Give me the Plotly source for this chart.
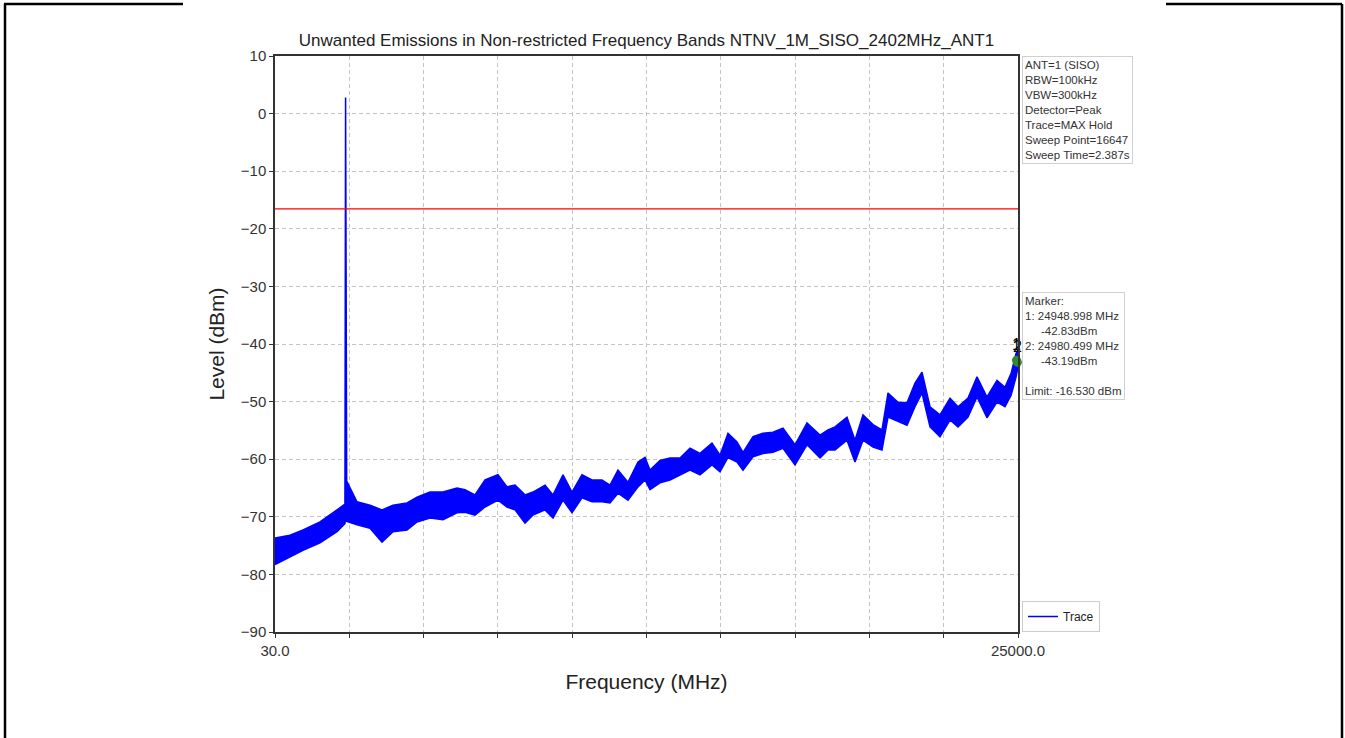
import plotly.graph_objects as go

# ---- data ----
freq_mhz = [30, 534, 971, 1542, 2114, 2380, 2402, 2440, 2786, 3223, 3626, 3996, 4466, 4802,
            5239, 5676, 6146, 6415, 6751, 7088, 7524, 7827, 8096, 8432, 8701, 9104, 9373,
            9709, 10011, 10347, 10683, 11019, 11288, 11557, 11893, 12229, 12465, 12633,
            12969, 13305, 13641, 13977, 14313, 14716, 14985, 15254, 15556, 15758, 16094,
            16430, 16766, 17102, 17506, 17909, 18346, 18615, 18850, 19253, 19522, 19791,
            20127, 20429, 20631, 20967, 21270, 21538, 21774, 22043, 22379, 22715, 22984,
            23320, 23622, 23958, 24294, 24563, 24768, 24936, 25000]
level_hi = [-73.7, -73.2, -72.3, -70.9, -68.8, -67.8, 2.8, -63.8, -67.4, -68.0, -68.8, -68.0,
            -67.6, -66.6, -65.7, -65.7, -65.0, -65.3, -66.2, -63.6, -62.7, -64.8, -64.5,
            -66.2, -65.7, -64.5, -66.2, -62.7, -65.7, -62.7, -63.6, -63.6, -64.5, -61.9,
            -64.0, -60.5, -59.7, -61.9, -60.2, -59.8, -59.8, -58.1, -59.0, -57.2, -59.3,
            -55.5, -57.0, -58.8, -56.1, -55.5, -55.3, -54.6, -57.5, -53.7, -55.8, -54.9,
            -54.4, -52.7, -56.7, -52.3, -54.0, -54.9, -48.5, -50.1, -50.2, -46.8, -44.9,
            -50.9, -52.3, -49.4, -50.9, -49.4, -45.7, -49.2, -46.3, -47.5, -45.1, -41.6, -41.0]
level_lo = [-78.3, -77.0, -75.8, -74.5, -72.6, -71.2, -70.5, -70.8, -71.4, -72.0, -74.4, -72.6,
            -72.3, -70.9, -70.2, -70.5, -69.3, -69.2, -69.7, -68.3, -67.1, -68.3, -68.8,
            -71.1, -69.7, -68.8, -70.2, -67.1, -69.3, -66.7, -67.4, -67.4, -67.6, -65.9,
            -67.1, -64.8, -63.6, -65.3, -64.1, -63.6, -62.7, -61.9, -62.7, -61.0, -62.2,
            -59.7, -60.5, -61.9, -59.6, -59.0, -58.8, -58.1, -61.0, -57.5, -59.8, -58.4,
            -58.4, -56.7, -60.5, -56.7, -57.9, -58.4, -52.7, -53.5, -54.1, -50.9, -48.5,
            -54.4, -56.1, -53.2, -54.4, -52.7, -49.2, -52.8, -50.1, -50.9, -48.9, -45.7, -44.0]

limit_dbm = -16.530
marker_freq = [24948.998, 24980.499]
marker_level = [-42.83, -43.19]
marker_names = ["1", "2"]

x_ticks = [30 + k * 2497 for k in range(11)]
x_tick_text = ["30.0"] + [""] * 9 + ["25000.0"]

info_text = ("ANT=1 (SISO)<br>RBW=100kHz<br>VBW=300kHz<br>Detector=Peak<br>"
             "Trace=MAX Hold<br>Sweep Point=16647<br>Sweep Time=2.387s")
marker_text = ("Marker:<br>1: 24948.998 MHz<br>\u00a0\u00a0\u00a0\u00a0\u00a0-42.83dBm<br>"
               "2: 24980.499 MHz<br>\u00a0\u00a0\u00a0\u00a0\u00a0-43.19dBm<br><br>"
               "Limit: -16.530 dBm")

W, H = 1345, 738
L, R, T, B = 275, 1018, 56, 632


def px(x):
    return (x - L) / (R - L)


def py(y):
    return (B - y) / (B - T)


fig = go.Figure()
fig.add_trace(go.Scatter(x=freq_mhz, y=level_hi, mode="lines", name="Trace",
                         line=dict(color="#0000ff", width=1.5)))
fig.add_trace(go.Scatter(x=freq_mhz, y=level_lo, mode="lines", name="Trace_lo",
                         showlegend=False, fill="tonexty", fillcolor="#0000ff",
                         line=dict(color="#0000ff", width=1.5)))
fig.add_trace(go.Scatter(x=[freq_mhz[0], freq_mhz[-1]], y=[limit_dbm, limit_dbm],
                         mode="lines", showlegend=False, line=dict(color="#ff0000", width=1.2)))
fig.add_trace(go.Scatter(x=marker_freq, y=marker_level, mode="markers+text",
                         text=marker_names, textposition="top center", showlegend=False,
                         textfont=dict(size=16, color="black"),
                         marker=dict(color="#2e8b2e", size=9), cliponaxis=False))

axis_common = dict(showline=True, linecolor="#333333", linewidth=1.5, mirror=True,
                   ticks="outside", ticklen=4, tickcolor="#333333", showgrid=True,
                   gridcolor="#c4c4c4", griddash="4px,3px", gridwidth=1, zeroline=False,
                   tickfont=dict(size=15, color="#333333"))

fig.update_layout(
    width=W, height=H,
    margin=dict(l=L, r=W - R, t=T, b=H - B, autoexpand=False),
    paper_bgcolor="white", plot_bgcolor="white",
    font=dict(family="Liberation Sans, Arial, sans-serif", color="#222222"),
    title=dict(text="Unwanted Emissions in Non-restricted Frequency Bands NTNV_1M_SISO_2402MHz_ANT1",
               x=0.5, xref="paper", xanchor="center", y=1 - 40 / H, yanchor="middle",
               font=dict(size=17, color="#222222")),
    xaxis=dict(range=[30, 25000], tickvals=x_ticks, ticktext=x_tick_text,
               title=dict(text="Frequency (MHz)", font=dict(size=21), standoff=17),
               **axis_common),
    yaxis=dict(range=[-90, 10], dtick=10,
               title=dict(text="Level (dBm)", font=dict(size=21), standoff=10),
               **axis_common),
    legend=dict(x=px(1022), y=py(632), xanchor="left", yanchor="bottom",
                bgcolor="white", bordercolor="#cccccc", borderwidth=1,
                font=dict(size=12)),
    showlegend=True,
)

fig.add_annotation(text=info_text, xref="paper", yref="paper", x=px(1022), y=1.0,
                   xanchor="left", yanchor="top", align="left", showarrow=False,
                   font=dict(size=11.5, color="#333333"), bgcolor="white",
                   bordercolor="#d0d0d0", borderwidth=1, borderpad=2)
fig.add_annotation(text=marker_text, xref="paper", yref="paper", x=px(1022), y=py(292),
                   xanchor="left", yanchor="top", align="left", showarrow=False,
                   font=dict(size=11.5, color="#333333"), bgcolor="white",
                   bordercolor="#d0d0d0", borderwidth=1, borderpad=2)

# page frame lines
frame = [(5, 4, 5, 738), (4, 4, 183, 4), (1166, 4, 1342, 4), (1342, 4, 1342, 738)]
for x0, y0, x1, y1 in frame:
    fig.add_shape(type="line", xref="paper", yref="paper", x0=px(x0), y0=py(y0),
                  x1=px(x1), y1=py(y1), line=dict(color="black", width=2.5))

fig.write_html("out.html", config={"displayModeBar": False},
               post_script="document.body.style.margin='0';"
                           "document.body.style.overflow='hidden';")
